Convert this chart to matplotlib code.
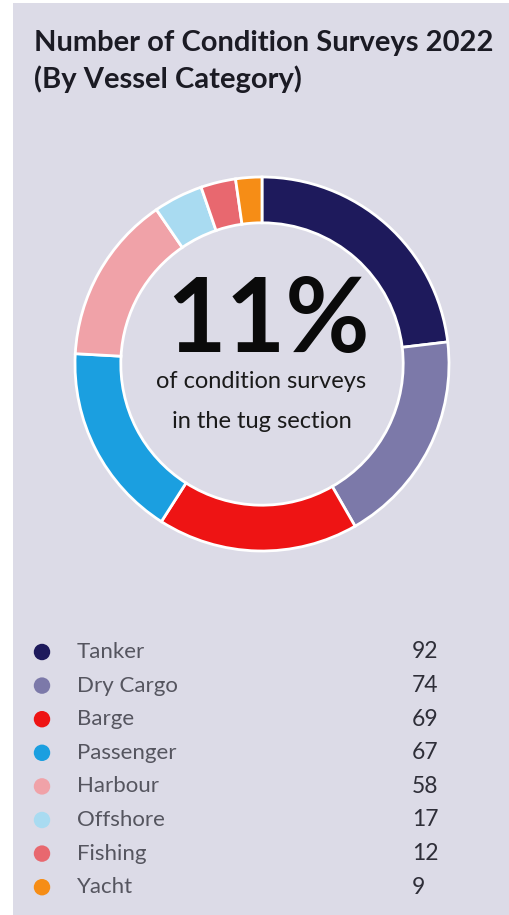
import matplotlib
matplotlib.use("Agg")
import matplotlib.pyplot as plt
from matplotlib.patches import Rectangle

categories = ["Tanker", "Dry Cargo", "Barge", "Passenger", "Harbour", "Offshore", "Fishing", "Yacht"]
values = [92, 74, 69, 67, 58, 17, 12, 9]
colors = ["#1e1a5c", "#7c79a9", "#ee1414", "#1b9fe0", "#f0a2a8", "#a9dbf1", "#e8686f", "#f68d16"]
title_lines = ["Number of Condition Surveys 2022", "(By Vessel Category)"]
center_big = "11%"
center_small = ["of condition surveys", "in the tug section"]

BG = "#dcdbe7"
W, H = 510, 915
fig = plt.figure(figsize=(W / 100, H / 100), dpi=100, facecolor="white")

# overlay axes in pixel coordinates
ov = fig.add_axes([0, 0, 1, 1])
ov.set_xlim(0, W)
ov.set_ylim(H, 0)
ov.axis("off")
ov.add_patch(Rectangle((13, 3), W - 13, H - 3, facecolor=BG, edgecolor="none", zorder=0))

# title
ov.text(34, 43, title_lines[0], fontsize=21, fontweight="bold", family="Lato", color="#1b1b24", va="center", ha="left")
ov.text(34, 79, title_lines[1], fontsize=21, fontweight="bold", family="Lato", color="#1b1b24", va="center", ha="left")

# donut
cx, cy, R = 262, 364, 187
ax = fig.add_axes([(cx - R) / W, (H - cy - R) / H, 2 * R / W, 2 * R / H])
ax.pie(values, colors=colors, startangle=90, counterclock=False, radius=1,
       wedgeprops=dict(width=0.245, edgecolor="white", linewidth=2))
ax.set_xlim(-1, 1)
ax.set_ylim(-1, 1)
ax.set_aspect("equal")
ax.axis("off")

ov.text(268, 322, center_big, fontsize=74, fontweight="bold", family="Lato", color="#0a0a0a", ha="center", va="center")
ov.text(261, 382, center_small[0], fontsize=17, family="Lato", color="#1a1a1a", ha="center", va="center")
ov.text(262, 421, center_small[1], fontsize=17, family="Lato", color="#1a1a1a", ha="center", va="center")

# legend
y0, dy = 652, 33.6
for i, (cat, v, c) in enumerate(zip(categories, values, colors)):
    y = y0 + i * dy
    ov.scatter([42], [y], s=140, color=c, edgecolors="none", zorder=3)
    ov.text(77, y, cat, fontsize=16, family="Lato", color="#55555f", ha="left", va="center")
    ov.text(412, y, str(v), fontsize=16.5, family="Lato", color="#2e2e38", ha="left", va="center")

fig.savefig("out.png", dpi=100, facecolor="white")
